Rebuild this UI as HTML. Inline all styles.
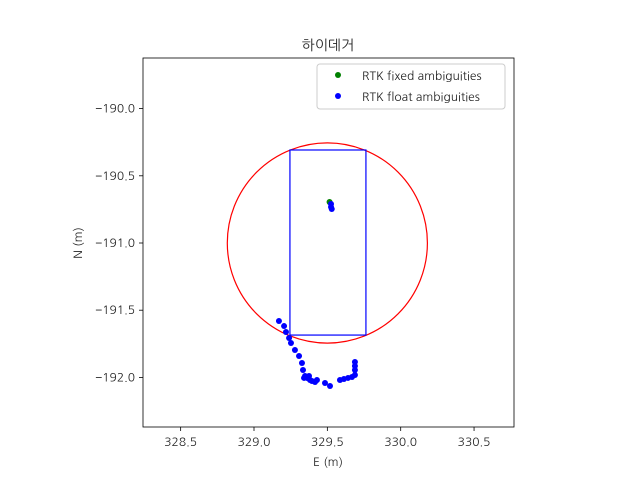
<!DOCTYPE html>
<html><head><meta charset="utf-8"><style>
body{margin:0;background:#fff}
svg text{font-family:"NanumGothic","Liberation Sans",sans-serif;fill:#222}
</style></head><body>
<svg id="c" width="640" height="480" xmlns="http://www.w3.org/2000/svg"></svg>
<script>
const xTicks=[328.5,329.0,329.5,330.0,330.5];
const yTicks=[-190.0,-190.5,-191.0,-191.5,-192.0];
const fixedE=[329.515];
const fixedN=[-190.695];
const floatE=[329.525,329.525,329.53,329.17,329.205,329.218,329.239,329.252,329.279,329.307,329.327,329.334,329.348,329.341,329.361,329.375,329.382,329.395,329.416,329.429,329.484,329.518,329.586,329.613,329.641,329.668,329.688,329.688,329.688,329.688];
const floatN=[-190.71,-190.732,-190.747,-191.58,-191.618,-191.662,-191.707,-191.744,-191.796,-191.841,-191.893,-191.945,-191.99,-192.004,-192.004,-191.99,-192.019,-192.027,-192.034,-192.019,-192.042,-192.064,-192.019,-192.012,-192.004,-191.997,-191.982,-191.945,-191.915,-191.885];
const circle=[329.5,-191.0,0.682,0.745];
const rect=[329.245,-190.308,329.763,-191.685];
const L=143,R=514,T=58,B=427;
const X=v=>254+(v-329)*146.7, Y=v=>243-(v+191)*134.4;
const s=document.getElementById('c'),NS='http://www.w3.org/2000/svg';
function mk(t,a,txt){const e=document.createElementNS(NS,t);for(const k in a)e.setAttribute(k,a[k]);if(txt!==undefined)e.textContent=txt;s.appendChild(e);return e;}
let e=mk('rect',{x:L,y:T,width:R-L,height:B-T,fill:'#fff',stroke:'#000','stroke-width':0.8});


xTicks.forEach(v=>{let l=mk('line',{x1:X(v),x2:X(v),y1:B,y2:B+4,stroke:'#000','stroke-width':0.8});


let t=mk('text',{x:X(v),y:B+19,'text-anchor':'middle','font-size':12},v.toFixed(1));

});
yTicks.forEach(v=>{let l=mk('line',{x1:L-4,x2:L,y1:Y(v),y2:Y(v),stroke:'#000','stroke-width':0.8});


let t=mk('text',{x:L-8,y:Y(v)+4,'text-anchor':'end','font-size':12},(v).toFixed(1).replace('-','−'));

});
e=mk('text',{x:328,y:466,'text-anchor':'middle','font-size':12},'E (m)');


e=mk('text',{x:82,y:243,'text-anchor':'middle','font-size':12,transform:'rotate(-90 82 243)'},'N (m)');


e=mk('text',{x:328,y:50,'text-anchor':'middle','font-size':14},'하이데거');


e=mk('ellipse',{cx:X(circle[0]),cy:Y(circle[1]),rx:circle[2]*146.7,ry:circle[3]*134.4,fill:'none',stroke:'red','stroke-width':1.2});


e=mk('rect',{x:X(rect[0]),y:Y(rect[1]),width:X(rect[2])-X(rect[0]),height:Y(rect[3])-Y(rect[1]),fill:'none',stroke:'blue','stroke-width':1.2});


fixedE.forEach((v,i)=>{let c=mk('circle',{cx:X(v),cy:Y(fixedN[i]),r:3,fill:'green'});

});
floatE.forEach((v,i)=>{let c=mk('circle',{cx:X(v),cy:Y(floatN[i]),r:3,fill:'blue'});

});
e=mk('rect',{x:317,y:64,width:188,height:45,rx:3,fill:'#fff','fill-opacity':0.8,stroke:'#ccc'});


e=mk('circle',{cx:338,cy:75,r:3,fill:'green'});


e=mk('text',{x:362,y:80,'font-size':12},'RTK fixed ambiguities');


e=mk('circle',{cx:338,cy:96,r:3,fill:'blue'});


e=mk('text',{x:362,y:101,'font-size':12},'RTK float ambiguities');


</script>
</body></html>
